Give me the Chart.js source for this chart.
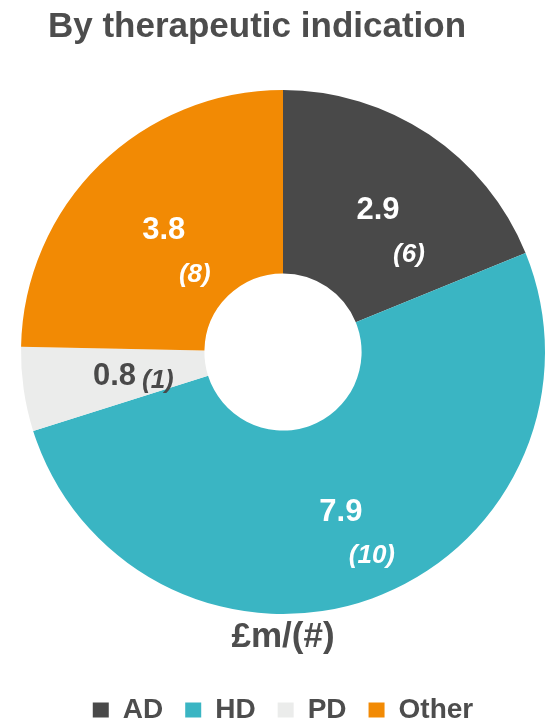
<!DOCTYPE html>
<html>
<head>
<meta charset="utf-8">
<script src="https://cdn.jsdelivr.net/npm/chart.js@4.4.1/dist/chart.umd.min.js"></script>
<style>
  html, body { margin: 0; padding: 0; background: #fff; }
  #wrap { position: relative; width: 554px; height: 724px; }
  #chart { position: absolute; left: 0; top: 0; }
  #heading {
    position: absolute; left: 0; top: 7px; width: 514px; margin: 0;
    text-align: center; color: #4d4d4d;
    font: bold 35px/35px "Liberation Sans", Arial, sans-serif;
  }
</style>
</head>
<body>
<div id="wrap">
  <canvas id="chart" width="554" height="724"></canvas>
  <h1 id="heading">By therapeutic indication</h1>
</div>
<script>
const categories = ['AD', 'HD', 'PD', 'Other'];
const fundingValues = [2.9, 7.9, 0.8, 3.8];   // £m
const projectCounts = [6, 10, 1, 8];          // (#)
const sliceColours = ['#494949', '#3ab5c3', '#ebeceb', '#f28a04'];
const labelColours = ['#ffffff', '#ffffff', '#494949', '#ffffff'];

const FONT = '"Liberation Sans", Arial, sans-serif';

// value + (count) written on each slice
const sliceLabels = {
  id: 'sliceLabels',
  afterDatasetsDraw(chart) {
    const ctx = chart.ctx;
    const arcs = chart.getDatasetMeta(0).data;
    ctx.save();
    ctx.textAlign = 'center';
    ctx.textBaseline = 'middle';
    arcs.forEach((arc, i) => {
      const { x, y } = arc.tooltipPosition();
      const value = fundingValues[i].toFixed(1);
      const count = '(' + projectCounts[i] + ')';
      ctx.fillStyle = labelColours[i];

      ctx.font = 'bold 31px ' + FONT;
      ctx.fillText(value, x, y);
      const valueWidth = ctx.measureText(value).width;

      ctx.font = 'italic bold 26px ' + FONT;
      if (arc.endAngle - arc.startAngle < 0.5) {
        // thin slice: count goes beside the value
        const countWidth = ctx.measureText(count).width;
        ctx.fillText(count, x + valueWidth / 2 + 6 + countWidth / 2, y + 5);
      } else {
        ctx.fillText(count, x + 31, y + 44);
      }
    });
    ctx.restore();
  }
};

new Chart(document.getElementById('chart'), {
  type: 'doughnut',
  data: {
    labels: categories,
    datasets: [{
      data: fundingValues,
      backgroundColor: sliceColours,
      borderWidth: 0,
      hoverOffset: 0
    }]
  },
  options: {
    responsive: false,
    animation: false,
    events: [],
    cutout: '30%',
    layout: { padding: { top: 90, left: 21, right: 9, bottom: -10 } },
    plugins: {
      tooltip: { enabled: false },
      subtitle: {
        display: true,
        text: '£m/(#)',
        position: 'bottom',
        weight: 500,
        color: '#4d4d4d',
        font: { family: FONT, size: 35, weight: 'bold' },
        padding: { top: 2, bottom: 16 }
      },
      legend: {
        position: 'bottom',
        labels: {
          color: '#4d4d4d',
          font: { family: FONT, size: 28, weight: 'bold' },
          boxWidth: 16,
          boxHeight: 15,
          padding: 22
        }
      }
    }
  },
  plugins: [sliceLabels]
});
</script>
</body>
</html>
